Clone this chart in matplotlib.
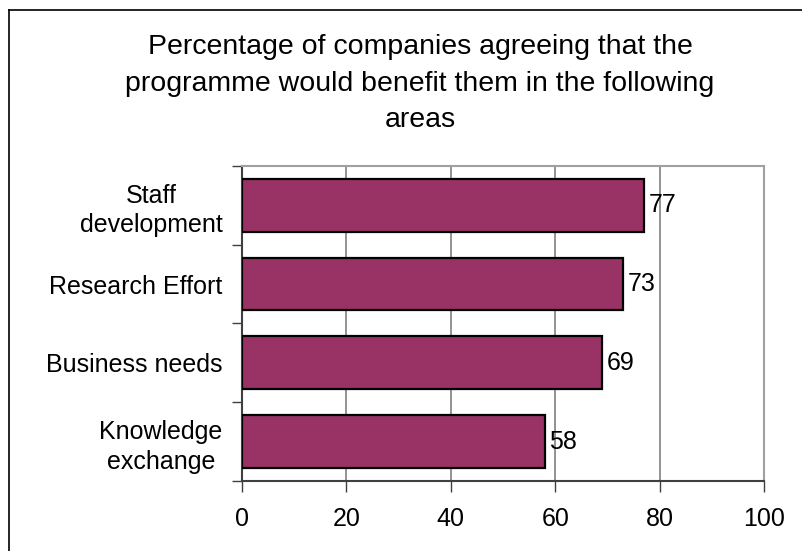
import matplotlib
matplotlib.use("Agg")
import matplotlib.pyplot as plt
from matplotlib.lines import Line2D

categories = ["Staff\ndevelopment", "Research Effort", "Business needs", "Knowledge\nexchange"]
values = [77, 73, 69, 58]
xticks = [0, 20, 40, 60, 80, 100]
title = ("Percentage of companies agreeing that the\n"
         "programme would benefit them in the following\n"
         "areas")

plt.rcParams["font.family"] = ["Liberation Sans", "DejaVu Sans"]

fig = plt.figure(figsize=(8.03, 5.51), dpi=100)
ax = fig.add_axes([0.3014, 0.127, 0.650, 0.572])

ypos = list(range(len(categories)))
ax.barh(ypos, values, height=0.67, color="#993366", edgecolor="black",
        linewidth=1.6, zorder=3)
for y, v in zip(ypos, values):
    ax.text(v + 0.9, y, f"{v}", va="center", ha="left", fontsize=18, zorder=4)

ax.set_xlim(0, 100)
ax.set_ylim(len(categories) - 0.5, -0.5)
ax.set_xticks(xticks)
ax.set_xticklabels([str(t) for t in xticks], fontsize=18)
ax.tick_params(axis="x", length=8, width=1, color="#404040", pad=11)

ax.set_yticks(ypos)
ax.set_yticklabels(categories, fontsize=18)
for lbl in ax.get_yticklabels():
    lbl.set_multialignment("center")
    lbl.set_linespacing(1.3)
ax.tick_params(axis="y", which="major", length=0, pad=14)
ax.set_yticks([i - 0.5 for i in range(len(categories) + 1)], minor=True)
ax.tick_params(axis="y", which="minor", length=7, width=1, color="#404040")

ax.xaxis.grid(True, color="#808080", linewidth=1.2, zorder=0)
ax.set_axisbelow(True)
for side in ("top", "right"):
    ax.spines[side].set_color("#a0a0a0")
    ax.spines[side].set_linewidth(1.5)
for side in ("left", "bottom"):
    ax.spines[side].set_color("#404040")
    ax.spines[side].set_linewidth(1.5)

fig.text(0.523, 0.938, title, ha="center", va="top", fontsize=20.5,
         linespacing=1.53)

# outer chart frame (left and top edges)
fig.add_artist(Line2D([9 / 803, 9 / 803], [0, 1 - 10 / 551],
                      transform=fig.transFigure, color="black", linewidth=1.2))
fig.add_artist(Line2D([9 / 803, 1], [1 - 10 / 551, 1 - 10 / 551],
                      transform=fig.transFigure, color="black", linewidth=1.2))

fig.savefig("out.png", dpi=100)
